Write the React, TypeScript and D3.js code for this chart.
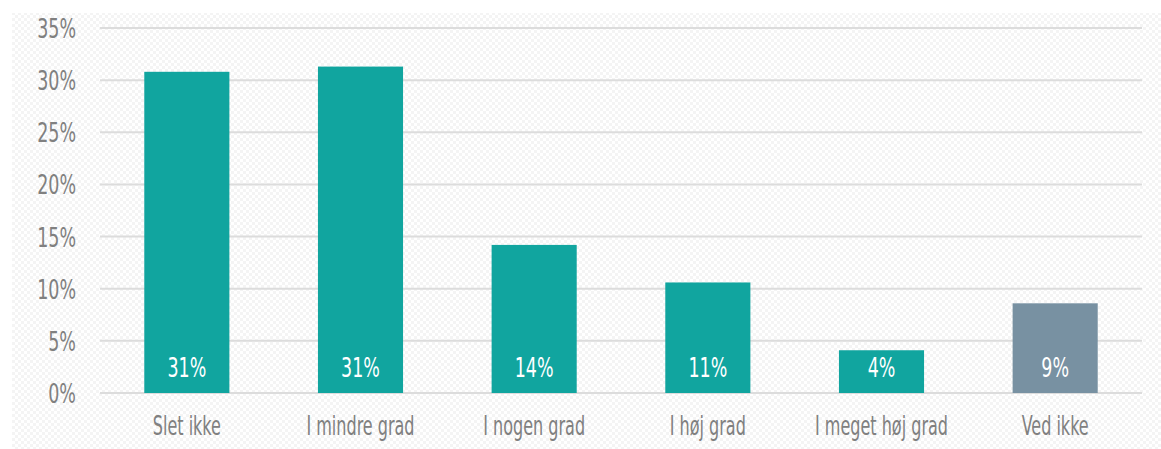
import React from "react";
import * as d3 from "d3";

const categories = ["Slet ikke", "I mindre grad", "I nogen grad", "I høj grad", "I meget høj grad", "Ved ikke"];
const values = [30.8, 31.3, 14.2, 10.6, 4.1, 8.6];
const barColors = ["#11A59F", "#11A59F", "#11A59F", "#11A59F", "#11A59F", "#7891A2"];
const yTicks = [0, 5, 10, 15, 20, 25, 30, 35];

const W = 1161;
const H = 449;
const FONT = "'DejaVu Sans Condensed', 'DejaVu Sans', sans-serif";
const SX_NUM = 0.72;
const SX_TXT = 0.66;

export default function App() {
  const x = d3.scaleBand<string>().domain(categories).range([100, 1142]).paddingInner(0.51).paddingOuter(0.255);
  const y = d3.scaleLinear().domain([0, 35]).range([393, 28]);

  const T = (props: { x: number; y: number; anchor: string; fill: string; sx: number; children: React.ReactNode }) => (
    <g transform={`translate(${props.x},${props.y}) scale(${props.sx},1)`}>
      <text textAnchor={props.anchor as any} fill={props.fill} fontFamily={FONT} fontSize={27}>
        {props.children}
      </text>
    </g>
  );

  return (
    <svg width={W} height={H} style={{ position: "absolute", left: 0, top: 0, display: "block" }}>
      <defs>
        <pattern id="chk" width={6} height={6} patternUnits="userSpaceOnUse">
          <rect width={6} height={6} fill="#ffffff" />
          <rect width={3} height={3} fill="#f4f4f4" />
          <rect x={3} y={3} width={3} height={3} fill="#f4f4f4" />
        </pattern>
      </defs>
      <rect width={W} height={H} fill="#ffffff" />
      <rect x={12} y={13} width={W - 12} height={H - 13} fill="url(#chk)" />
      {yTicks.map((t) => (
        <g key={t}>
          <line x1={100} x2={1142} y1={y(t)} y2={y(t)} stroke="#dcdcdc" strokeWidth={2} />
          <T x={76} y={y(t) + 10} anchor="end" fill="#808080" sx={SX_NUM}>{`${t}%`}</T>
        </g>
      ))}
      {categories.map((c, i) => (
        <g key={c}>
          <rect x={x(c)} y={y(values[i])} width={x.bandwidth()} height={y(0) - y(values[i])} fill={barColors[i]} />
          <T x={(x(c) as number) + x.bandwidth() / 2} y={377} anchor="middle" fill="#ffffff" sx={SX_NUM}>{`${Math.round(values[i])}%`}</T>
          <T x={(x(c) as number) + x.bandwidth() / 2} y={435} anchor="middle" fill="#808080" sx={SX_TXT}>{c}</T>
        </g>
      ))}
    </svg>
  );
}
